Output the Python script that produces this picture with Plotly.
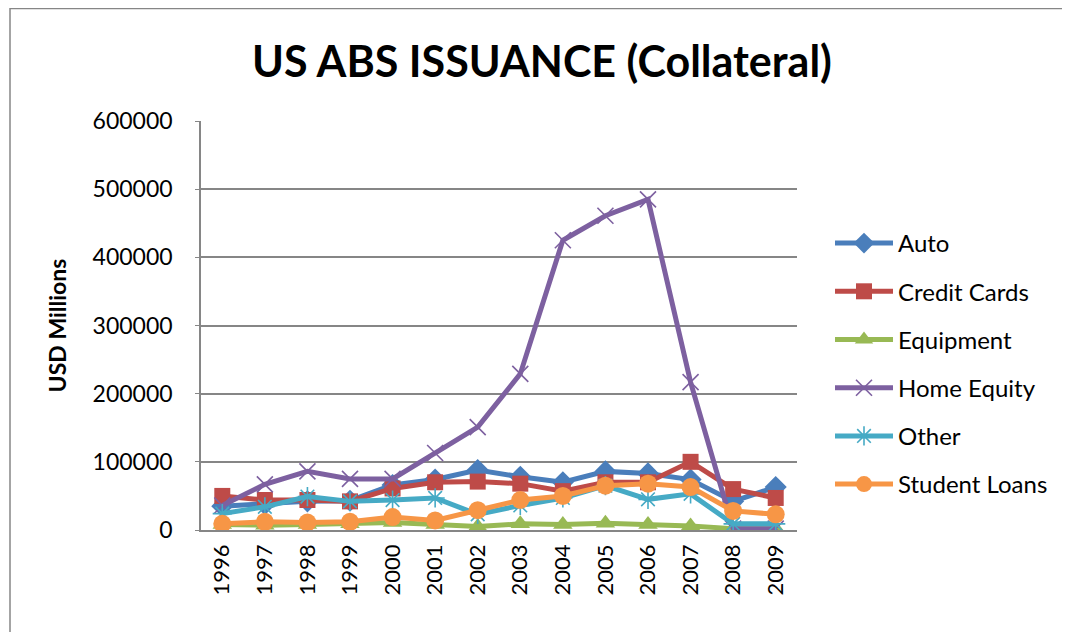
import plotly.graph_objects as go

years = ["1996", "1997", "1998", "1999", "2000", "2001", "2002", "2003",
         "2004", "2005", "2006", "2007", "2008", "2009"]
auto = [35000, 38000, 42000, 43000, 66000, 74000, 88000, 78000, 70000, 86000, 83000, 74000, 42000, 63000]
credit_cards = [50000, 44000, 44000, 42000, 61000, 70000, 71000, 68000, 57000, 70000, 70000, 100000, 60000, 47000]
equipment = [8000, 7000, 8000, 9000, 11000, 8000, 5000, 9000, 8000, 10000, 8000, 6000, 2000, 2000]
home_equity = [36000, 67000, 86000, 75000, 75000, 113000, 151000, 229000, 425000, 461000, 485000, 217000, 2000, 2000]
other = [24000, 34000, 49000, 42000, 44000, 47000, 23000, 36000, 47000, 65000, 45000, 53000, 9000, 9000]
student_loans = [9000, 12000, 11000, 12000, 19000, 14000, 29000, 44000, 50000, 65000, 68000, 63000, 28000, 23000]

series = [
    ("Auto", auto, "#4A7EBB", "diamond", 17, False),
    ("Credit Cards", credit_cards, "#BE4B48", "square", 16, False),
    ("Equipment", equipment, "#98B954", "triangle-up", 17, False),
    ("Home Equity", home_equity, "#7D60A0", "x-thin-open", 16, True),
    ("Other", other, "#46AAC5", "asterisk-open", 16, True),
    ("Student Loans", student_loans, "#F79646", "circle", 18, False),
]

FONT = "Lato"
OFF = 8  # page body margin
fig = go.Figure()
for name, vals, color, sym, size, open_ in series:
    marker = dict(symbol=sym, size=size, color=color)
    if open_:
        marker["line"] = dict(color=color, width=1.6)
    fig.add_trace(go.Scatter(
        x=years, y=vals, name=name, mode="lines+markers",
        line=dict(color=color, width=5),
        marker=marker, legendgroup=name,
    ))

# target page-pixel geometry
L, R, T, B = 201, 797, 121, 530
W, H = 1070 - OFF, 632 - OFF
pw, ph = R - L, B - T

def px(x):
    return (x - L) / pw

def py(y):
    return (B - y) / ph

fig.update_layout(
    width=W, height=H,
    margin=dict(l=L - OFF, r=1070 - R, t=T - OFF, b=632 - B, pad=0),
    paper_bgcolor="white", plot_bgcolor="white",
    font=dict(family=FONT, size=22, color="black"),
    title=dict(text="<b>US ABS ISSUANCE (Collateral)</b>", x=(542 - OFF) / W, xanchor="center",
               y=1 - (62 - OFF) / H, yanchor="middle", font=dict(family=FONT, size=43, color="black")),
    showlegend=True,
    legend=dict(x=px(830), y=py(221), xanchor="left", yanchor="top",
                font=dict(family=FONT, size=24, color="black"),
                tracegroupgap=14, itemwidth=58, bgcolor="rgba(0,0,0,0)"),
    xaxis=dict(type="category", range=[-0.5, 13.5], showgrid=False,
               showline=True, linecolor="#868686", linewidth=1.5,
               tickangle=-90, ticks="", tickfont=dict(size=22), ticklabelstandoff=4),
    yaxis=dict(range=[0, 600000], tick0=0, dtick=100000, showgrid=True,
               gridcolor="#868686", gridwidth=1.5, showline=True, linecolor="#868686",
               linewidth=1.5, ticks="outside", ticklen=4, tickcolor="#868686",
               tickformat="d", zeroline=False, tickfont=dict(size=23),
               ticklabelstandoff=18,
               title=dict(text="<b>USD Millions</b>", font=dict(size=23), standoff=20)),
    shapes=[dict(type="rect", xref="paper", yref="paper",
                 x0=px(10), x1=px(1067), y0=py(660), y1=py(8.5),
                 line=dict(color="#868686", width=1.5), layer="below")],
)

fig.write_html("out.html")
